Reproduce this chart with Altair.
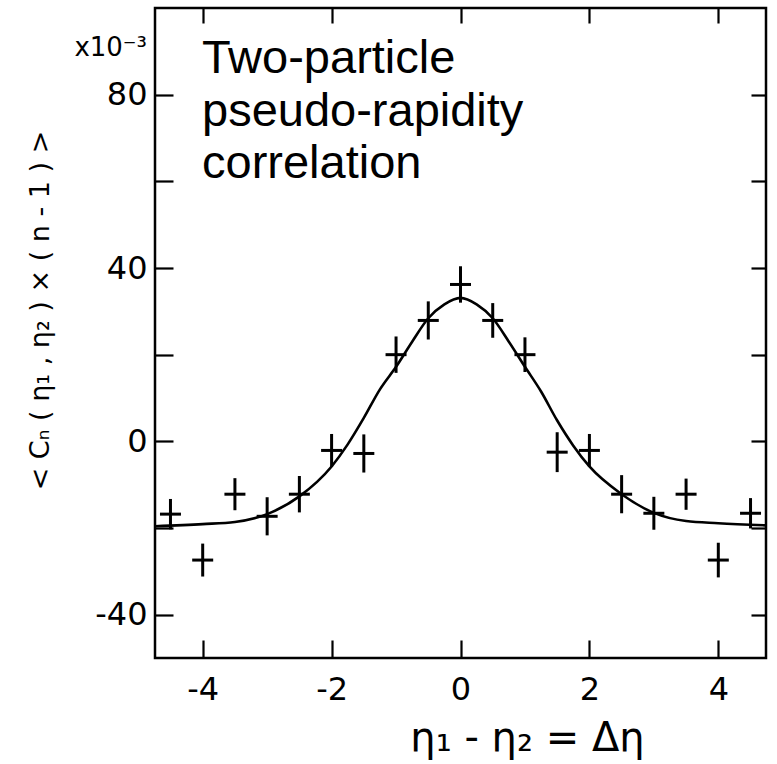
import altair as alt
import pandas as pd

# ---- data ----
pt_x = [-4.5, -4.0, -3.5, -3.0, -2.5, -2.0, -1.5, -1.0, -0.5, 0.0,
        0.5, 1.0, 1.5, 2.0, 2.5, 3.0, 3.5, 4.0, 4.5]
pt_y = [-16.8, -27.4, -12.2, -17.3, -12.2, -2.1, -2.8, 20.0, 27.9, 36.2,
        27.9, 20.0, -2.5, -2.1, -12.2, -16.6, -12.2, -27.4, -16.6]
pt_err = [3.5, 3.8, 3.7, 4.4, 4.2, 3.8, 4.4, 4.2, 4.4, 4.2,
          4.0, 4.0, 4.6, 3.8, 4.4, 3.8, 3.6, 4.0, 3.5]

curve_x = [-4.74, -4.0, -3.5, -3.0, -2.5, -2.0, -1.75, -1.5, -1.25, -1.0,
           -0.75, -0.5, -0.25, 0.0, 0.25, 0.5, 0.75, 1.0, 1.25, 1.5,
           1.75, 2.0, 2.5, 3.0, 3.5, 4.0, 4.74]
curve_y = [-19.6, -19.1, -18.6, -16.8, -12.7, -5.8, -0.7, 5.4, 12.0, 17.2,
           23.0, 28.4, 31.6, 33.1, 31.6, 28.4, 23.0, 17.2, 11.5, 4.8,
           -1.0, -5.8, -12.2, -16.5, -18.4, -18.9, -19.4]

x_domain = [-4.74, 4.74]
y_domain = [-50, 100]
x_tick_values = [-4, -2, 0, 2, 4]
y_label_values = [-40, 0, 40, 80]
y_tick_values = [-40, -20, 0, 20, 40, 60, 80]

x_title = "η₁ - η₂  = Δη"
y_title = "<  Cₙ ( η₁ , η₂ ) × ( n - 1 )  >"
scale_note = "x10⁻³"
annotation = ["Two-particle", "pseudo-rapidity", "correlation"]

# ---- tables ----
pts = pd.DataFrame({"x": pt_x, "y": pt_y, "err": pt_err})
pts["lo"] = pts["y"] - pts["err"]
pts["hi"] = pts["y"] + pts["err"]
curve = pd.DataFrame({"x": curve_x, "y": curve_y})

W, H = 611, 650
xs = alt.Scale(domain=x_domain, nice=False, zero=False)
ys = alt.Scale(domain=y_domain, nice=False, zero=False)
hyphen = "datum.value < 0 ? '-' + abs(datum.value) : '' + datum.value"
FONT = "DejaVu Sans"


def tick_axis(orient, offset, values, size):
    return alt.Axis(orient=orient, offset=offset, values=values, labels=False,
                    domain=False, grid=False, ticks=True, tickSize=size,
                    tickWidth=2.2, tickColor="black", title=None)


line = alt.Chart(curve).mark_line(color="black", strokeWidth=2.6,
                                  interpolate="monotone").encode(
    x=alt.X("x:Q", scale=xs, axis=alt.Axis(
        orient="bottom", values=x_tick_values, ticks=False, tickSize=0,
        domain=False, grid=False, labelPadding=16, labelFontSize=32,
        labelFont=FONT, labelColor="black", labelExpr=hyphen,
        labelFlush=False, labelOverlap=False,
        title=x_title, titleFont=FONT, titleFontSize=40,
        titleFontWeight="normal", titleColor="black",
        titleX=372, titleY=92, titleAlign="center",
        titleBaseline="alphabetic")),
    y=alt.Y("y:Q", scale=ys, axis=alt.Axis(
        orient="left", values=y_label_values, ticks=False, tickSize=0,
        domain=False, grid=False, labelPadding=8, labelFontSize=32,
        labelFont=FONT, labelColor="black", labelExpr=hyphen,
        labelFlush=False, labelOverlap=False,
        title=y_title, titleFont=FONT, titleFontSize=27,
        titleFontWeight="normal", titleColor="black", titleAngle=270,
        titleX=-115, titleY=302, titleAlign="center",
        titleBaseline="middle")),
)

vbars = alt.Chart(pts).mark_rule(color="black", strokeWidth=3).encode(
    x=alt.X("x:Q", scale=xs, axis=tick_axis("top", -H, x_tick_values, 18)),
    y=alt.Y("lo:Q", scale=ys, axis=tick_axis("right", -W, y_tick_values, 18)),
    y2="hi:Q",
)

hbars = alt.Chart(pts).mark_tick(color="black", orient="horizontal",
                                 size=21, thickness=3, opacity=1).encode(
    x=alt.X("x:Q", scale=xs, axis=tick_axis("bottom", -H, x_tick_values, 15)),
    y=alt.Y("y:Q", scale=ys, axis=tick_axis("left", -W, y_tick_values, 15)),
)

ann = alt.Chart(pd.DataFrame({"k": [0]})).mark_text(
    text=annotation, font="Liberation Sans", fontSize=47, lineHeight=52.5,
    align="left", baseline="alphabetic", color="black",
).encode(x=alt.value(47), y=alt.value(65))

note = alt.Chart(pd.DataFrame({"k": [0]})).mark_text(
    text=scale_note, font=FONT, fontSize=26, align="right",
    baseline="alphabetic", color="black",
).encode(x=alt.value(-8), y=alt.value(48))

chart = alt.layer(line, vbars, hbars, ann, note).resolve_axis(
    x="independent", y="independent"
).properties(
    width=W, height=H,
    autosize=alt.AutoSizeParams(type="none"),
    padding={"left": 155, "top": 8, "right": 11, "bottom": 106},
    background="white",
).configure_view(stroke="black", strokeWidth=2.5)

chart.save("out.html", embed_options={"renderer": "svg", "actions": False})
